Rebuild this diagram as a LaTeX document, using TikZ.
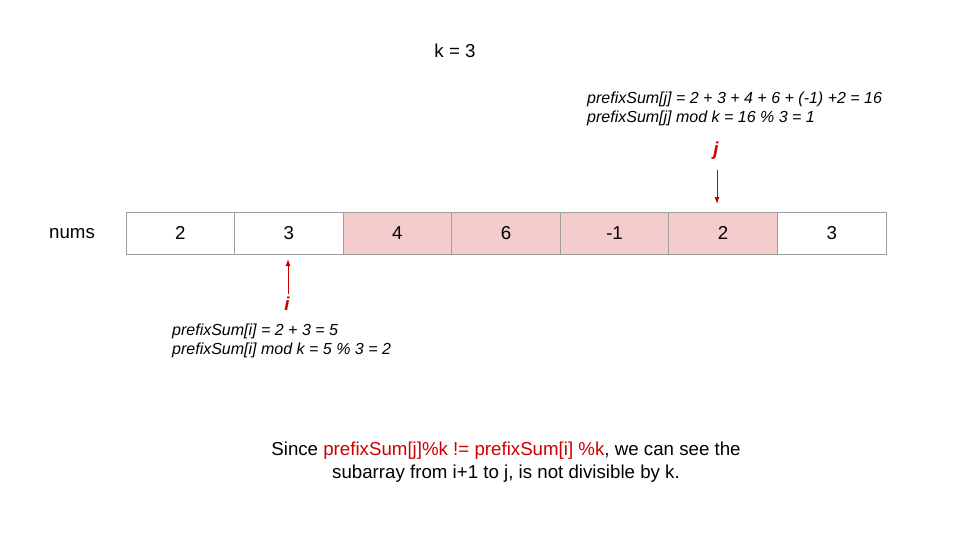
\documentclass[tikz,border=0pt]{standalone}
\usepackage{fontspec}
\setmainfont{Liberation Sans}
\usetikzlibrary{arrows.meta}
\definecolor{redtxt}{HTML}{CC0000}
\definecolor{pinkfill}{HTML}{F4CCCC}
\definecolor{cellborder}{HTML}{9E9E9E}
\tikzset{
  cell/.style={draw=cellborder, line width=0.9pt, minimum width=108.57pt, minimum height=42pt, inner sep=0pt, font=\fontsize{18.7}{22}\selectfont, anchor=center},
  hot/.style={cell, fill=pinkfill},
  formula/.style={anchor=west, align=left, inner sep=0pt, font=\fontsize{16}{19}\selectfont\itshape},
  ptr/.style={font=\fontsize{18.7}{22}\selectfont\bfseries\itshape, text=redtxt, inner sep=0pt},
  ptrarrow/.style={draw=redtxt, line width=0.9pt, -{Latex[length=7pt,width=5pt]}},
  plain/.style={font=\fontsize{18.7}{22}\selectfont, inner sep=0pt}
}
\begin{document}
\begin{tikzpicture}[x=1pt,y=-1pt]
\useasboundingbox (0,0) rectangle (960,540);
\node[plain] (k) at (455,51) {k = 3};
\node[plain] (nums) at (72,234) {nums};
\node[cell] (c1) at (180.29,233) {2};
\node[cell] (c2) at (288.86,233) {3};
\node[hot]  (c3) at (397.43,233) {4};
\node[hot]  (c4) at (506.00,233) {6};
\node[hot]  (c5) at (614.57,233) {-1};
\node[hot]  (c6) at (723.14,233) {2};
\node[cell] (c7) at (831.71,233) {3};
\node[ptr] (j) at (716,151) {j};
\node[ptr] (i) at (287,304) {i};
\coordinate (jtail) at (717,170);
\coordinate (jhead) at (717,204);
\coordinate (itail) at (288,294);
\coordinate (ihead) at (288,259);
\draw[ptrarrow] (jtail) -- (jhead);
\draw[ptrarrow] (itail) -- (ihead);
\node[formula] (fj) at (587,109) {prefixSum[j] = 2 + 3 + 4 + 6 + (-1) +2 = 16\\prefixSum[j] mod k = 16 \% 3 = 1};
\node[formula] (fi) at (172,341) {prefixSum[i] = 2 + 3 = 5\\prefixSum[i] mod k = 5 \% 3 = 2};
\node[plain, align=center, font=\fontsize{18.7}{23}\selectfont] (note) at (506,462) {Since \textcolor{redtxt}{prefixSum[j]\%k != prefixSum[i] \%k}, we can see the\\subarray from i+1 to j, is not divisible by k.};
\end{tikzpicture}
\end{document}
